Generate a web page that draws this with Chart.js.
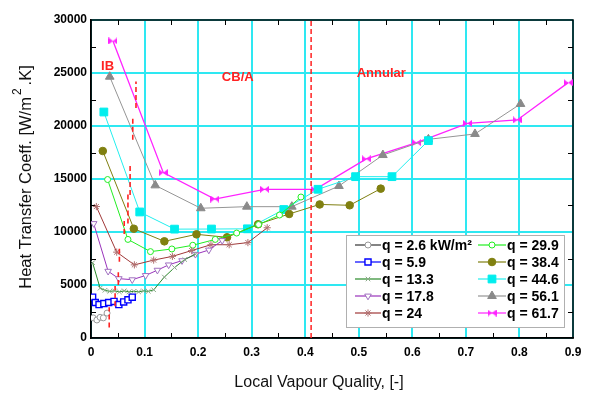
<!DOCTYPE html>
<html>
<head>
<meta charset="utf-8">
<script src="https://cdn.jsdelivr.net/npm/chart.js@4.4.1/dist/chart.umd.min.js"></script>
<style>
  html, body { margin: 0; padding: 0; background: #fff; }
</style>
</head>
<body>
<canvas id="htcChart" width="593" height="394"></canvas>
<script>
// vapour quality (x) and heat transfer coefficient (y) per heat flux, kW/m2
const quality26 = [0.004, 0.011, 0.017, 0.023, 0.03];
const htc26     = [1900, 1700, 1950, 1900, 2350];

const quality59 = [0.003, 0.008, 0.015, 0.024, 0.033, 0.043, 0.052, 0.061, 0.069, 0.077];
const htc59     = [3850, 3350, 3150, 3250, 3350, 3450, 3150, 3400, 3600, 3850];

const quality133 = [0.003, 0.017, 0.026, 0.035, 0.044, 0.053, 0.062, 0.071, 0.08, 0.089, 0.098, 0.107, 0.117, 0.137, 0.156, 0.175, 0.195];
const htc133     = [7100, 4700, 4500, 4400, 4450, 4350, 4450, 4350, 4400, 4350, 4450, 4400, 4550, 5750, 6650, 7400, 7900];

const quality178 = [0.005, 0.032, 0.052, 0.077, 0.102, 0.124, 0.145, 0.17, 0.195, 0.22, 0.245];
const htc178     = [10800, 6300, 5600, 5500, 5900, 6400, 6900, 7300, 7900, 8300, 9200];

const quality24 = [0.01, 0.048, 0.081, 0.117, 0.152, 0.188, 0.224, 0.258, 0.293, 0.329];
const htc24     = [12400, 8100, 6900, 7350, 7700, 8250, 8800, 8800, 9000, 10400];

const quality299 = [0.031, 0.069, 0.111, 0.151, 0.19, 0.232, 0.272, 0.313, 0.352, 0.392];
const htc299     = [14950, 9300, 8150, 8400, 8750, 9300, 9900, 10700, 11600, 13300];

const quality384 = [0.022, 0.08, 0.137, 0.197, 0.254, 0.312, 0.37, 0.427, 0.483, 0.541];
const htc384     = [17640, 10310, 9120, 9780, 9500, 10730, 11700, 12600, 12520, 14090];

const quality446 = [0.024, 0.091, 0.156, 0.225, 0.292, 0.36, 0.424, 0.494, 0.562, 0.63];
const htc446     = [21320, 11890, 10270, 10280, 10300, 12120, 14030, 15220, 15220, 18620];

const quality561 = [0.035, 0.12, 0.205, 0.291, 0.375, 0.463, 0.545, 0.63, 0.717, 0.802];
const htc561     = [24650, 14400, 12240, 12390, 12390, 14340, 17260, 18740, 19250, 22080];

const quality617 = [0.041, 0.135, 0.231, 0.324, 0.419, 0.514, 0.608, 0.703, 0.796, 0.891];
const htc617     = [28020, 15600, 13110, 14030, 14030, 16900, 18430, 20250, 20570, 24090];

const fluxLabels = ['q = 2.6 kW/m\u00B2', 'q = 5.9', 'q = 13.3', 'q = 17.8', 'q = 24',
                    'q = 29.9', 'q = 38.4', 'q = 44.6', 'q = 56.1', 'q = 61.7'];

// short red dashed marks = transition quality on each curve
const transQuality = [0.084, 0.078, 0.073, 0.069, 0.062, 0.053, 0.051, 0.045, 0.034];
const transLow     = [21700, 18700, 13500, 10800, 9800, 7200, 5000, 3000, 1000];
const transHigh    = [24200, 20700, 16400, 13600, 11200, 8600, 6200, 4900, 2900];

// CB/A -> annular boundary
const annularQuality = 0.411;

const zoneLabels  = ['IB', 'CB/A', 'Annular'];
const zoneQuality = [0.031, 0.274, 0.542];
const zoneHtc     = [25650, 24620, 25000];

const FONT = "'Liberation Sans', Arial, sans-serif";
const CYAN = '#2ee8f2';
const RED  = '#ff2222';

function makeBowtie(color) {
  const c = document.createElement('canvas');
  c.width = 9; c.height = 7;
  const g = c.getContext('2d');
  g.fillStyle = color;
  g.beginPath();
  g.moveTo(0, 0); g.lineTo(4.5, 3.5); g.lineTo(0, 7); g.closePath();
  g.moveTo(9, 0); g.lineTo(4.5, 3.5); g.lineTo(9, 7); g.closePath();
  g.fill();
  return c;
}

function toPoints(xs, ys) {
  return xs.map((x, i) => ({ x: x, y: ys[i] }));
}

function series(label, xs, ys, s) {
  return {
    label,
    data: toPoints(xs, ys),
    showLine: true,
    borderColor: s.line,
    borderWidth: s.width || 1,
    pointStyle: s.style,
    pointRotation: s.rotation || 0,
    pointRadius: s.radius,
    pointBackgroundColor: s.fill,
    pointBorderColor: s.edge,
    pointBorderWidth: s.edgeWidth || 1,
    order: 1
  };
}

const seriesStyles = [
  { line: '#333333', style: 'circle',   radius: 3,   fill: '#ffffff', edge: '#999999' },
  { line: '#0000ff', style: 'rect',     radius: 4.3, fill: '#ffffff', edge: '#0000ff', edgeWidth: 1.4 },
  { line: '#2a8a2a', style: 'crossRot', radius: 3.2, fill: '#8aaa88', edge: '#8aaa88' },
  { line: '#9933bb', style: 'triangle', radius: 3.8, fill: '#ffffff', edge: '#a070c0', rotation: 180 },
  { line: '#a03838', style: 'star',     radius: 3.6, fill: '#b07070', edge: '#b07070' },
  { line: '#22ee22', style: 'circle',   radius: 3,   fill: '#ffffff', edge: '#22ee22' },
  { line: '#7f7f10', style: 'circle',   radius: 3.8, fill: '#808010', edge: '#808010' },
  { line: '#22eeee', style: 'rect',     radius: 5.5, fill: '#00eeee', edge: '#00eeee' },
  { line: '#959595', style: 'triangle', radius: 5,   fill: '#8a8a8a', edge: '#8a8a8a' },
  { line: '#ff22ff', style: makeBowtie('#ff22ff'), radius: 4, fill: '#ff22ff', edge: '#ff22ff', width: 1.3 }
];

const xs = [quality26, quality59, quality133, quality178, quality24, quality299, quality384, quality446, quality561, quality617];
const ys = [htc26, htc59, htc133, htc178, htc24, htc299, htc384, htc446, htc561, htc617];

const datasets = xs.map((x, i) => series(fluxLabels[i], x, ys[i], seriesStyles[i]));

transQuality.forEach((q, i) => {
  datasets.push({
    label: 'trans' + i,
    data: [{ x: q, y: transLow[i] }, { x: q, y: transHigh[i] }],
    showLine: true,
    borderColor: RED,
    borderWidth: 1.6,
    borderDash: [5, 3],
    pointRadius: 0,
    order: 0
  });
});

datasets.push({
  label: 'annular',
  data: [{ x: annularQuality, y: 0 }, { x: annularQuality, y: 30000 }],
  showLine: true,
  borderColor: RED,
  borderWidth: 1.5,
  borderDash: [5, 3],
  pointRadius: 0,
  order: 0
});

const framePlugin = {
  id: 'frame',
  beforeDatasetsDraw(chart) {
    const { ctx, chartArea: a, scales: { x, y } } = chart;
    ctx.save();
    ctx.strokeStyle = '#000';
    ctx.lineWidth = 1;
    // minor inward ticks on all four sides
    for (let v = 0.05; v < 0.9; v += 0.1) {
      const px = Math.round(x.getPixelForValue(v)) + 0.5;
      ctx.beginPath();
      ctx.moveTo(px, a.bottom); ctx.lineTo(px, a.bottom - 5);
      ctx.moveTo(px, a.top);    ctx.lineTo(px, a.top + 5);
      ctx.stroke();
    }
    for (let v = 2500; v < 30000; v += 5000) {
      const py = Math.round(y.getPixelForValue(v)) + 0.5;
      ctx.beginPath();
      ctx.moveTo(a.left, py);  ctx.lineTo(a.left + 5, py);
      ctx.moveTo(a.right, py); ctx.lineTo(a.right - 5, py);
      ctx.stroke();
    }
    ctx.lineWidth = 1.5;
    ctx.strokeRect(a.left, a.top, a.right - a.left, a.bottom - a.top);
    ctx.restore();
  },
  afterDraw(chart) {
    const { ctx, scales: { x, y } } = chart;
    ctx.save();

    // zone labels
    ctx.fillStyle = RED;
    ctx.font = 'bold 13px ' + FONT;
    ctx.textAlign = 'center';
    ctx.textBaseline = 'middle';
    zoneLabels.forEach((t, i) => {
      ctx.fillText(t, x.getPixelForValue(zoneQuality[i]), y.getPixelForValue(zoneHtc[i]));
    });

    // axis titles
    ctx.fillStyle = '#111';
    ctx.font = '16px ' + FONT;
    ctx.fillText('Local Vapour Quality, [-]', 319, 383);

    ctx.translate(26, 177);
    ctx.rotate(-Math.PI / 2);
    const p1 = 'Heat Transfer Coeff. [W/m';
    const p2 = '.K]';
    ctx.font = '16.5px ' + FONT;
    const w1 = ctx.measureText(p1).width;
    const w2 = ctx.measureText(p2).width;
    ctx.font = '12px ' + FONT;
    const ws = ctx.measureText('2').width + 5;
    const total = w1 + ws + w2;
    ctx.textAlign = 'left';
    ctx.font = '16.5px ' + FONT;
    ctx.fillText(p1, -total / 2, 0);
    ctx.fillText(p2, -total / 2 + w1 + ws, 0);
    ctx.font = '12px ' + FONT;
    ctx.fillText('2', -total / 2 + w1 + 2, -8);
    ctx.restore();

    // legend box
    ctx.save();
    const bx = 346, by = 235, bw = 218, bh = 92;
    ctx.fillStyle = '#fff';
    ctx.fillRect(bx, by, bw, bh);
    ctx.strokeStyle = '#b0b0b0';
    ctx.lineWidth = 1;
    ctx.strokeRect(bx + 0.5, by + 0.5, bw, bh);
    ctx.font = 'bold 14px ' + FONT;
    ctx.textBaseline = 'middle';
    ctx.textAlign = 'left';
    fluxLabels.forEach((lab, i) => {
      const col = i < 5 ? 0 : 1;
      const row = i % 5;
      const x0 = col === 0 ? 355 : 478;
      const x1 = col === 0 ? 381 : 506;
      const ly = 245 + row * 17;
      const s = seriesStyles[i];
      ctx.strokeStyle = s.line;
      ctx.lineWidth = 1.2;
      ctx.beginPath();
      ctx.moveTo(x0, ly); ctx.lineTo(x1, ly);
      ctx.stroke();
      if (Chart.helpers && Chart.helpers.drawPoint) {
        ctx.fillStyle = s.fill;
        ctx.strokeStyle = s.edge;
        ctx.lineWidth = s.edgeWidth || 1;
        Chart.helpers.drawPoint(ctx, { pointStyle: s.style, rotation: s.rotation || 0, radius: s.radius, borderWidth: s.edgeWidth || 1 }, (x0 + x1) / 2, ly);
      }
      ctx.fillStyle = '#000';
      ctx.fillText(lab, x1 + 1, ly + 1);
    });
    ctx.restore();
  }
};

const ctx = document.getElementById('htcChart').getContext('2d');
const chart = new Chart(ctx, {
  type: 'scatter',
  data: { datasets },
  options: {
    responsive: false,
    animation: false,
    layout: { padding: { top: 20, right: 20, left: 0, bottom: 0 } },
    plugins: {
      legend: { display: false },
      tooltip: { enabled: false }
    },
    scales: {
      x: {
        type: 'linear',
        min: 0,
        max: 0.9,
        afterFit: s => { s.height = 56; },
        ticks: {
          stepSize: 0.1,
          padding: 7,
          color: '#000',
          font: { family: FONT, size: 12, weight: 'bold' },
          callback: v => String(Number(v.toFixed(2)))
        },
        grid: { color: CYAN, lineWidth: 2, drawTicks: false },
        border: { color: '#000', width: 1.5 }
      },
      y: {
        type: 'linear',
        min: 0,
        max: 30000,
        afterFit: s => { s.width = 91; },
        ticks: {
          stepSize: 5000,
          padding: 4,
          color: '#000',
          font: { family: FONT, size: 12, weight: 'bold' },
          callback: v => String(v)
        },
        grid: { color: CYAN, lineWidth: 2, drawTicks: false },
        border: { color: '#000', width: 1.5 }
      }
    }
  },
  plugins: [framePlugin]
});
</script>
</body>
</html>
